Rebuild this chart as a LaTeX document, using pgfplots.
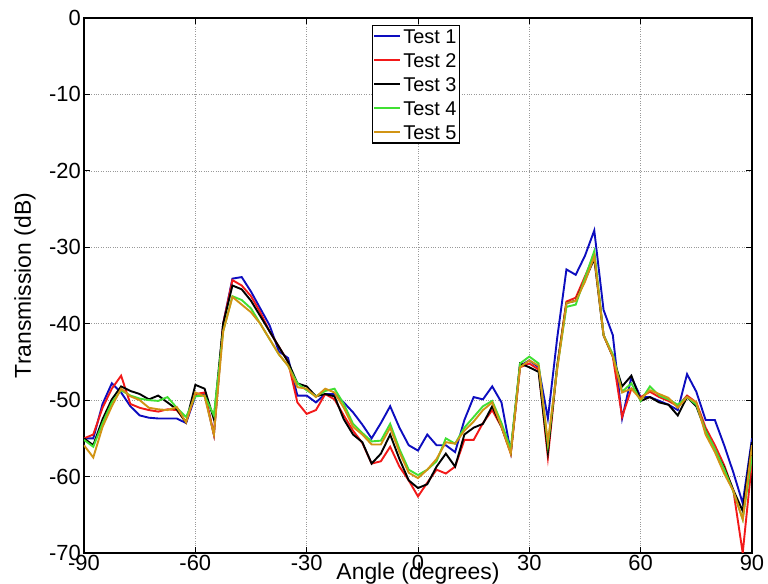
\documentclass[border=0pt]{standalone}
\usepackage{pgfplots}
\pgfplotsset{compat=1.18}
\usepackage{pgfplotstable}
\usepackage{fontspec}
\setmainfont{Liberation Sans}
\definecolor{c1}{rgb}{0.05,0.05,0.75}
\definecolor{c2}{rgb}{0.95,0.1,0.1}
\definecolor{c3}{rgb}{0,0,0}
\definecolor{c4}{rgb}{0.25,0.88,0.2}
\definecolor{c5}{rgb}{0.82,0.58,0.08}
\pgfplotstableread{
x t1 t2 t3 t4 t5
-90 -55 -55 -55 -55.2 -55.9
-87.5 -55 -54.5 -55.9 -56.1 -57.5
-85 -50.5 -51 -52.5 -53 -53.5
-82.5 -47.8 -48.5 -49.9 -50.3 -50.8
-80 -49 -46.8 -48.2 -48.7 -48.5
-77.5 -50.8 -50.5 -48.8 -49.4 -49.5
-75 -52 -51 -49.2 -49.8 -50
-72.5 -52.3 -51.3 -49.9 -50 -51
-70 -52.4 -51.5 -49.4 -50.1 -51.2
-67.5 -52.4 -51.2 -50.3 -49.6 -51.3
-65 -52.4 -51.3 -51.2 -51 -50.9
-62.5 -53 -52.9 -52.9 -52.2 -52.9
-60 -49.5 -49.2 -48 -49.5 -49
-57.5 -49.2 -49 -48.5 -49.4 -49.5
-55 -54.5 -54.5 -52.5 -52 -54.5
-52.5 -40 -40 -40 -41 -41
-50 -34.1 -34.3 -35 -36.4 -36.5
-47.5 -33.9 -35 -35.5 -36.9 -37.5
-45 -35.8 -36.4 -37 -38 -38.5
-42.5 -38 -38.5 -39 -40 -40
-40 -40.2 -41 -41 -42 -42
-37.5 -43.6 -43 -43 -44 -44
-35 -44.5 -45 -45 -45.5 -45.5
-32.5 -49.4 -50.3 -47.8 -47.8 -48.3
-30 -49.4 -51.8 -48.2 -48.7 -48.5
-27.5 -50.3 -51.3 -49.5 -49.5 -49.6
-25 -49.2 -49.2 -49.2 -48.8 -48.5
-22.5 -49.2 -49.9 -49.5 -48.5 -49
-20 -50.3 -52 -52.5 -50.5 -51
-17.5 -51.6 -54 -54.5 -53.1 -53.5
-15 -53.2 -55.6 -55.5 -54.3 -54.5
-12.5 -55 -58.3 -58.3 -55.4 -55.8
-10 -53 -58 -57 -55.3 -55.8
-7.5 -50.8 -56.1 -54.5 -53.1 -53.6
-5 -53.6 -58.7 -57.7 -56.4 -56.8
-2.5 -55.9 -60.5 -60.5 -59.1 -59.5
0 -56.6 -62.6 -61.5 -59.8 -60.2
2.5 -54.5 -60.8 -61 -59.1 -59.1
5 -55.9 -59.1 -58.7 -58 -57.7
7.5 -55.9 -59.6 -57 -55 -55.5
10 -56.8 -58.7 -58.7 -55.7 -55.7
12.5 -52.6 -55.2 -54.5 -53.6 -54
15 -49.6 -55.2 -53.6 -52.2 -52.8
17.5 -49.9 -53 -53.1 -50.8 -51.3
20 -48.2 -51.3 -50.8 -50.1 -50.3
22.5 -50.3 -53.5 -53.5 -53 -53.5
25 -56.8 -57 -56.8 -56.4 -57
27.5 -45.5 -45.7 -45.2 -45.2 -45.7
30 -44.8 -45.2 -45.7 -44.3 -44.8
32.5 -45.7 -46 -46.3 -45.2 -45.5
35 -52.4 -57.5 -56.8 -55.9 -55.5
37.5 -41.9 -45.6 -45.6 -45.8 -46
40 -32.9 -37.1 -37.3 -37.8 -37.3
42.5 -33.6 -36.6 -37 -37.5 -37
45 -31.1 -33.8 -34.3 -34 -34.5
47.5 -27.8 -31 -31.5 -30.5 -31.2
50 -38.2 -41.5 -41.5 -41.5 -41.5
52.5 -41.5 -44.3 -44.3 -44 -44.3
55 -52.4 -52.2 -48.2 -48.9 -49
57.5 -47 -48.5 -46.8 -47.8 -48.5
60 -49.6 -49.6 -50.1 -50.1 -49.9
62.5 -49.6 -48.9 -49.6 -48.2 -48.7
65 -50.1 -49.6 -50.3 -49.4 -49.2
67.5 -50.6 -50.1 -50.6 -49.9 -49.7
70 -51.3 -50.8 -52 -50.6 -51
72.5 -46.6 -49.4 -49.6 -49.6 -49.6
75 -48.9 -50.3 -50.8 -50.6 -50.3
77.5 -52.6 -53.6 -54 -54 -54.5
80 -52.6 -55.9 -56.6 -56.4 -56.8
82.5 -55.9 -58.5 -58.8 -59 -59.6
85 -59.5 -61.9 -61.8 -62 -61.9
87.5 -63.5 -70 -64.5 -65.6 -65.6
90 -55 -58 -55.5 -57.3 -55.9
}\datatable
\begin{document}
\begin{tikzpicture}
\begin{axis}[
  scale only axis,
  width=668bp, height=535bp,
  xmin=-90, xmax=90, ymin=-70, ymax=0,
  xtick={-90,-60,-30,0,30,60,90},
  ytick={-70,-60,-50,-40,-30,-20,-10,0},
  /pgf/number format/assume math mode=true,
  tick label style={font=\fontsize{22}{26}\selectfont},
  xticklabel style={anchor=north, inner sep=1bp, yshift=-1bp},
  yticklabel style={anchor=east, inner sep=2bp, xshift=-1bp},
  label style={font=\fontsize{23}{27}\selectfont},
  xlabel={Angle (degrees)},
  ylabel={Transmission (dB)},
  xlabel style={at={(rel axis cs:0.5,0)}, anchor=south, inner sep=0bp, yshift=-31bp},
  ylabel style={at={(rel axis cs:0,0.5)}, anchor=center, yshift=59bp},
  axis line style={line width=1.2bp},
  major tick length=6bp,
  tick style={line width=0.8bp, black},
  grid=major,
  major grid style={dotted, line width=0.6bp, gray!80},
  legend style={at={(rel axis cs:0.431,0.987)}, anchor=north west,
    font=\fontsize{20}{24}\selectfont, draw=black, line width=1.2bp,
    inner xsep=1bp, inner ysep=1bp, row sep=4.5bp,
    nodes={inner sep=2bp, text height=14.5bp, text depth=1bp}},
  legend cell align=left,
  legend image code/.code={\draw[#1, line width=1.9bp] (0bp,0bp) -- (26bp,0bp);},
]
\addplot[c1, line width=1.9bp] table[x=x, y=t1] {\datatable};
\addplot[c2, line width=1.9bp] table[x=x, y=t2] {\datatable};
\addplot[c3, line width=1.9bp] table[x=x, y=t3] {\datatable};
\addplot[c4, line width=1.9bp] table[x=x, y=t4] {\datatable};
\addplot[c5, line width=1.9bp] table[x=x, y=t5] {\datatable};
\legend{Test 1, Test 2, Test 3, Test 4, Test 5}
\end{axis}
\path[use as bounding box] (-84bp,-31bp) rectangle (684bp,553bp);
\end{tikzpicture}
\end{document}
